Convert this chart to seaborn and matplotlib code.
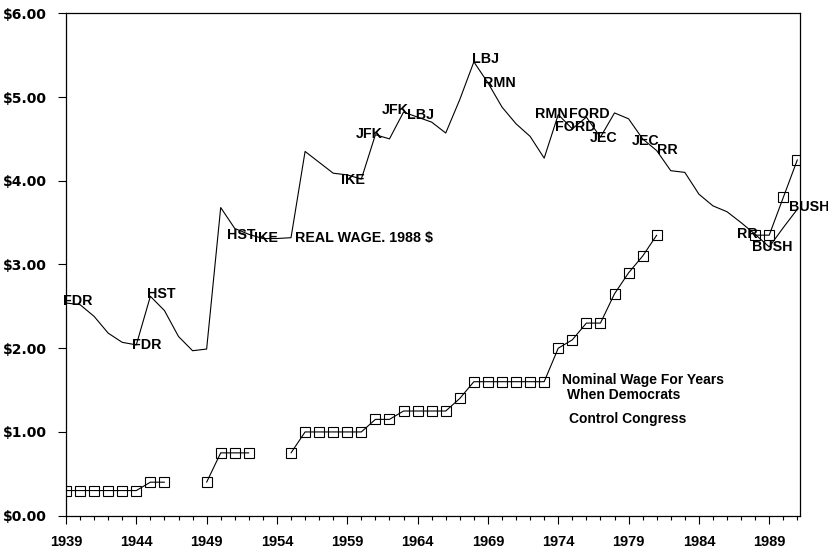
import pandas as pd
import matplotlib.pyplot as plt
import seaborn as sns
from matplotlib.ticker import MultipleLocator, FixedLocator, FuncFormatter

# Real minimum wage in 1988 dollars, every year 1939-1991
years = list(range(1939, 1992))
real_wage = [2.54, 2.52, 2.38, 2.18, 2.07, 2.04, 2.62, 2.45, 2.14, 1.97,
             1.99, 3.68, 3.43, 3.36, 3.31, 3.31, 3.32, 4.35, 4.22, 4.09,
             4.07, 4.02, 4.55, 4.50, 4.82, 4.76, 4.70, 4.57, 4.97, 5.42,
             5.17, 4.88, 4.68, 4.53, 4.27, 4.79, 4.62, 4.76, 4.52, 4.81,
             4.74, 4.50, 4.36, 4.12, 4.10, 3.84, 3.70, 3.63, 3.50, 3.36,
             3.21, 3.44, 3.66]

# Nominal minimum wage, only for years when Democrats control Congress
nominal_years = [1939, 1940, 1941, 1942, 1943, 1944, 1945, 1946,
                 1949, 1950, 1951, 1952,
                 1955, 1956, 1957, 1958, 1959, 1960, 1961, 1962, 1963, 1964,
                 1965, 1966, 1967, 1968, 1969, 1970, 1971, 1972, 1973, 1974,
                 1975, 1976, 1977, 1978, 1979, 1980, 1981,
                 1988, 1989, 1990, 1991]
nominal_wage = [0.30, 0.30, 0.30, 0.30, 0.30, 0.30, 0.40, 0.40,
                0.40, 0.75, 0.75, 0.75,
                0.75, 1.00, 1.00, 1.00, 1.00, 1.00, 1.15, 1.15, 1.25, 1.25,
                1.25, 1.25, 1.40, 1.60, 1.60, 1.60, 1.60, 1.60, 1.60, 2.00,
                2.10, 2.30, 2.30, 2.65, 2.90, 3.10, 3.35,
                3.35, 3.35, 3.80, 4.25]

# President labels along the real wage line
label_text = ["FDR", "FDR", "HST", "HST", "IKE", "REAL WAGE. 1988 $", "IKE",
              "JFK", "JFK", "LBJ", "LBJ", "RMN", "RMN", "FORD", "FORD",
              "JEC", "JEC", "RR", "RR", "BUSH", "BUSH"]
label_x = [1938.79, 1943.68, 1944.74, 1950.44, 1952.38, 1955.30, 1958.57,
           1959.64, 1961.42, 1963.25, 1967.88, 1968.66, 1972.38, 1974.73,
           1973.80, 1976.25, 1979.21, 1981.00, 1986.74, 1987.80, 1990.38]
label_y = [2.565, 2.04, 2.65, 3.355, 3.32, 3.32, 4.01,
           4.56, 4.84, 4.78, 5.46, 5.17, 4.80, 4.80,
           4.64, 4.51, 4.48, 4.37, 3.37, 3.21, 3.69]

note_lines = ["Nominal Wage For Years", "When Democrats", "Control Congress"]

real_df = pd.DataFrame({"year": years, "wage": real_wage})
nom_df = pd.DataFrame({"year": nominal_years, "wage": nominal_wage})
nom_df["segment"] = (nom_df["year"].diff() > 1).cumsum()

sns.set_style("white")
plt.rcParams['font.family'] = ['Liberation Sans', 'DejaVu Sans']
plt.rcParams['text.color'] = 'black'
plt.rcParams['xtick.color'] = 'black'
plt.rcParams['ytick.color'] = 'black'
plt.rcParams['xtick.labelcolor'] = 'black'
plt.rcParams['ytick.labelcolor'] = 'black'

fig = plt.figure(figsize=(8.29, 5.49), dpi=100)
ax = fig.add_axes([0.0796, 0.0607, 0.8856, 0.9151])

sns.lineplot(data=real_df, x="year", y="wage", color="black",
             linewidth=0.8, ax=ax)
sns.lineplot(data=nom_df, x="year", y="wage", units="segment",
             estimator=None, color="black", linewidth=0.8, marker="s",
             markersize=6.5, markerfacecolor="none", markeredgecolor="black",
             markeredgewidth=0.8, ax=ax)

for t, lx, ly in zip(label_text, label_x, label_y):
    ax.text(lx, ly, t, ha="left", va="center", fontsize=10.3,
            fontweight="bold", color="black", clip_on=False)

ax.text(1974.28, 1.62, note_lines[0], ha="left", va="center", fontsize=10,
        fontweight="bold", color="black")
ax.text(1974.64, 1.44, note_lines[1], ha="left", va="center", fontsize=10,
        fontweight="bold", color="black")
ax.text(1974.73, 1.16, note_lines[2], ha="left", va="center", fontsize=10,
        fontweight="bold", color="black")

ax.set_xlim(1939, 1991.2)
ax.set_ylim(0, 6)
ax.xaxis.set_major_locator(FixedLocator(list(range(1939, 1992, 5))))
ax.xaxis.set_minor_locator(MultipleLocator(1))
ax.yaxis.set_major_locator(MultipleLocator(1))
ax.yaxis.set_major_formatter(FuncFormatter(lambda v, p: "${:.2f}".format(v)))
ax.tick_params(axis="x", which="major", direction="out", length=6,
               width=0.8, color="black", pad=8, bottom=True)
ax.tick_params(axis="x", which="minor", direction="out", length=3,
               width=0.8, color="black", bottom=True)
ax.tick_params(axis="y", which="major", direction="out", length=6,
               width=0.8, color="black", left=True, pad=8)
for lab in ax.get_xticklabels():
    lab.set_fontweight("bold")
    lab.set_fontsize(10.5)
    lab.set_color("black")
for lab in ax.get_yticklabels():
    lab.set_fontweight("bold")
    lab.set_fontsize(10)
    lab.set_family("DejaVu Sans")
    lab.set_color("black")

ax.set_xlabel("")
ax.set_ylabel("")
for s in ax.spines.values():
    s.set_color("black")
    s.set_linewidth(0.9)

fig.savefig("out.png", dpi=100)
